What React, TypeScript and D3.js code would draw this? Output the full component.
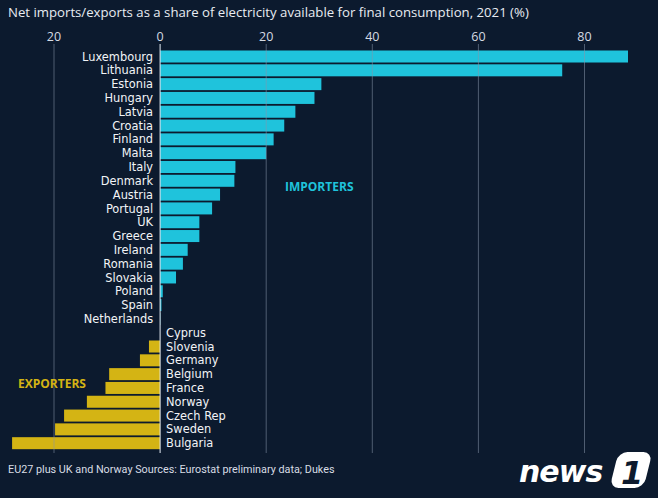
import * as d3 from 'd3'

const W = 658
const H = 498

const importers = [
  'Luxembourg', 'Lithuania', 'Estonia', 'Hungary', 'Latvia', 'Croatia', 'Finland', 'Malta',
  'Italy', 'Denmark', 'Austria', 'Portugal', 'UK', 'Greece', 'Ireland', 'Romania',
  'Slovakia', 'Poland', 'Spain', 'Netherlands',
]
const importValues = [
  88.2, 75.8, 30.4, 29.1, 25.5, 23.4, 21.4, 20.0, 14.2, 14.0, 11.3, 9.8, 7.4, 7.4, 5.2, 4.3,
  3.0, 0.5, 0.25, 0.05,
]
const exporters = [
  'Cyprus', 'Slovenia', 'Germany', 'Belgium', 'France', 'Norway', 'Czech Rep', 'Sweden', 'Bulgaria',
]
const exportValues = [0, -2.1, -3.8, -9.6, -10.3, -13.8, -18.1, -19.8, -27.9]

const ticks = [-20, 0, 20, 40, 60, 80]

const BG = '#0c1a2e'
const CYAN = '#1fc3dc'
const YELLOW = '#d4b414'

export default function App() {
  const countries = [...importers, ...exporters]
  const values = [...importValues, ...exportValues]

  const x = d3.scaleLinear().domain([-20, 80]).range([54, 584.5])
  const y = d3
    .scaleBand()
    .domain(countries)
    .range([49.6, 49.6 + 29 * 13.81])
    .paddingInner(0.13)
    .paddingOuter(0.065)

  const gridTop = 44
  const gridBottom = 453

  return (
    <svg
      width={W}
      height={H}
      style={{ position: 'absolute', left: 0, top: 0, display: 'block' }}
      fontFamily="'Open Sans', 'Noto Sans', sans-serif"
    >
      <rect width={W} height={H} fill={BG} />
      <text x={8} y={17} fill="#e8ecf2" fontSize={13.2}>
        Net imports/exports as a share of electricity available for final consumption, 2021 (%)
      </text>

      {countries.map((c, i) => {
        const v = values[i]
        const isImp = i < importers.length
        return (
          <rect
            key={c}
            x={x(Math.min(0, v))}
            y={y(c)}
            width={Math.abs(x(v) - x(0))}
            height={y.bandwidth()}
            fill={isImp ? CYAN : YELLOW}
          />
        )
      })}

      {ticks.map((t) => (
        <g key={t}>
          <line
            x1={x(t)}
            x2={x(t)}
            y1={gridTop}
            y2={gridBottom}
            stroke={t === 0 ? '#e6edf5' : '#8796aa'}
            strokeOpacity={t === 0 ? 1 : 0.55}
            strokeWidth={1}
          />
          <text x={x(t)} y={41} textAnchor="middle" fill="#d5dbe3" fontSize={12.5}>
            {Math.abs(t)}
          </text>
        </g>
      ))}

      {countries.map((c, i) => {
        const isImp = i < importers.length
        return (
          <text
            key={c}
            x={isImp ? x(0) - 7 : x(0) + 6}
            y={(y(c) ?? 0) + y.bandwidth() / 2}
            dy="0.36em"
            textAnchor={isImp ? 'end' : 'start'}
            fill="#f2f4f7"
            fontSize={11.4}
            fontFamily="'DejaVu Sans', sans-serif"
          >
            {c}
          </text>
        )
      })}

      <text x={285} y={191} fill={CYAN} fontSize={12} fontWeight="bold">
        IMPORTERS
      </text>
      <text x={18} y={388} fill={YELLOW} fontSize={12} fontWeight="bold">
        EXPORTERS
      </text>

      <text
        x={8}
        y={473}
        fill="#d8dde5"
        fontSize={10.8}
        fontFamily="'Liberation Sans Narrow', 'Roboto', sans-serif"
      >
        EU27 plus UK and Norway Sources: Eurostat preliminary data; Dukes
      </text>

      <g transform="translate(519,482)">
        <text
          x={0}
          y={0}
          fill="#ffffff"
          fontSize={30}
          fontWeight="bold"
          fontStyle="italic"
          fontFamily="'DejaVu Sans', sans-serif"
          letterSpacing={-1}
        >
          news
        </text>
        <rect
          x={92}
          y={-30}
          width={34}
          height={36}
          rx={9}
          fill="#ffffff"
          transform="skewX(-14)"
        />
        <text
          x={102}
          y={2}
          fill={BG}
          fontSize={32}
          fontWeight="bold"
          fontStyle="italic"
          fontFamily="'DejaVu Sans', sans-serif"
        >
          1
        </text>
      </g>
    </svg>
  )
}
